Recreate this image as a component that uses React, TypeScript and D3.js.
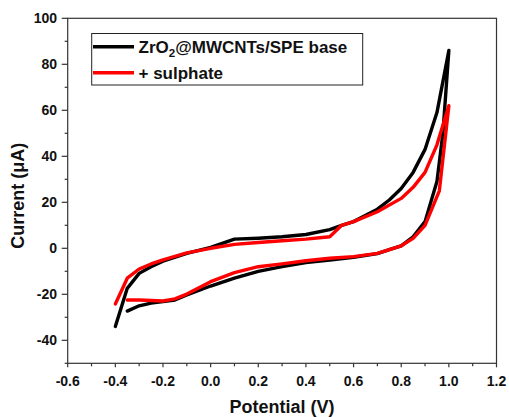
import React from "react";
import * as d3 from "d3";

const baseX = [-0.4, -0.35, -0.3, -0.25, -0.2, -0.1, 0.0, 0.1, 0.2, 0.3, 0.4, 0.5, 0.55, 0.6, 0.7, 0.75, 0.8, 0.85, 0.9, 0.95, 1.0,
  0.975, 0.95, 0.9, 0.85, 0.8, 0.75, 0.7, 0.6, 0.5, 0.4, 0.3, 0.2, 0.1, 0.0, -0.1, -0.15, -0.2, -0.25, -0.3, -0.35];
const baseY = [-34, -17.4, -10.9, -8, -5.6, -2.2, 0.4, 4, 4.4, 5, 6, 8.1, 10, 11.6, 17, 21, 26, 33, 43, 59, 86,
  50, 29, 11.6, 5, 1.1, -0.6, -2.3, -3.9, -5.1, -6.2, -8, -10, -13, -16.4, -20.3, -22.5, -23.2, -23.8, -25, -27.3];

const sulphX = [-0.4, -0.35, -0.3, -0.25, -0.2, -0.1, 0.0, 0.1, 0.2, 0.3, 0.4, 0.5, 0.55, 0.6, 0.7, 0.8, 0.85, 0.9, 0.95, 1.0,
  0.96, 0.9, 0.85, 0.8, 0.7, 0.6, 0.5, 0.4, 0.3, 0.2, 0.1, 0.0, -0.1, -0.15, -0.2, -0.3, -0.35];
const sulphY = [-24.2, -13, -9, -6.8, -5, -2, 0, 1.7, 2.5, 3.3, 4, 5, 10, 11.6, 15.9, 21.7, 26.5, 33, 45, 62,
  25, 10, 4.3, 1.1, -2.2, -3.6, -4.3, -5.4, -6.8, -8, -10.6, -14.5, -19.9, -22, -22.9, -22.5, -22.5];

const xTicks = [-0.6, -0.4, -0.2, 0.0, 0.2, 0.4, 0.6, 0.8, 1.0, 1.2];
const yTicks = [-40, -20, 0, 20, 40, 60, 80, 100];
const seriesNames = ["ZrO2@MWCNTs/SPE base", "+ sulphate"];
const seriesColors = ["#000000", "#ff0000"];

export default function App() {
  const W = 509, H = 417;
  const left = 67.7, right = 496.5, top = 18.3, bottom = 363.3;
  const x = d3.scaleLinear().domain([-0.6, 1.2]).range([left, right]);
  const y = d3.scaleLinear().domain([-50, 100]).range([bottom, top]);
  const line = d3.line<[number, number]>().x(d => x(d[0])).y(d => y(d[1]));
  const base = baseX.map((v, i) => [v, baseY[i]] as [number, number]);
  const sulph = sulphX.map((v, i) => [v, sulphY[i]] as [number, number]);
  const xMinor = d3.range(-0.5, 1.2, 0.2);
  const yMinor = d3.range(-50, 100, 20);
  const font = "'Liberation Sans', Arial, sans-serif";
  return (
    <svg width={W} height={H} style={{ position: "absolute", left: 0, top: 0 }} fontFamily={font}>
      <rect width={W} height={H} fill="#fff" />
      <path d={line(base) || ""} fill="none" stroke={seriesColors[0]} strokeWidth={3.4} strokeLinejoin="round" strokeLinecap="round" />
      <path d={line(sulph) || ""} fill="none" stroke={seriesColors[1]} strokeWidth={3.4} strokeLinejoin="round" strokeLinecap="round" />
      <rect x={left} y={top} width={right - left} height={bottom - top} fill="none" stroke="#333" strokeWidth={1.2} />
      {xTicks.map(t => (
        <g key={"xt" + t}>
          <line x1={x(t)} x2={x(t)} y1={bottom} y2={bottom + 4} stroke="#333" strokeWidth={1.2} />
          <text x={x(t)} y={386} textAnchor="middle" fontSize={14} fontWeight="bold" fill="#111">{t.toFixed(1)}</text>
        </g>
      ))}
      {xMinor.map(t => (
        <line key={"xm" + t} x1={x(t)} x2={x(t)} y1={bottom} y2={bottom + 3} stroke="#333" strokeWidth={1.2} />
      ))}
      {yTicks.map(t => (
        <g key={"yt" + t}>
          <line x1={left - 6} x2={left} y1={y(t)} y2={y(t)} stroke="#333" strokeWidth={1.2} />
          <text x={57} y={y(t) + 5} textAnchor="end" fontSize={14} fontWeight="bold" fill="#111">{t}</text>
        </g>
      ))}
      {yMinor.map(t => (
        <line key={"ym" + t} x1={left - 3} x2={left} y1={y(t)} y2={y(t)} stroke="#333" strokeWidth={1.2} />
      ))}
      <text x={(left + right) / 2} y={413} textAnchor="middle" fontSize={18} fontWeight="bold" fill="#111">Potential (V)</text>
      <text transform={`translate(24,${(top + bottom) / 2 + 5}) rotate(-90)`} textAnchor="middle" fontSize={18} fontWeight="bold" fill="#111">Current (μA)</text>
      <rect x={91.7} y={33.5} width={271} height={51.5} fill="#fff" stroke="#222" strokeWidth={1} />
      <line x1={93} x2={134} y1={46.7} y2={46.7} stroke={seriesColors[0]} strokeWidth={3.4} />
      <line x1={93} x2={134} y1={72.7} y2={72.7} stroke={seriesColors[1]} strokeWidth={3.4} />
      <text x={138.5} y={52.5} fontSize={17} fontWeight="bold" fill="#111">ZrO<tspan fontSize={11.5} dy={4}>2</tspan><tspan dy={-4}>@MWCNTs/SPE base</tspan></text>
      <text x={138.5} y={78.5} fontSize={17} fontWeight="bold" fill="#111">{seriesNames[1]}</text>
    </svg>
  );
}
